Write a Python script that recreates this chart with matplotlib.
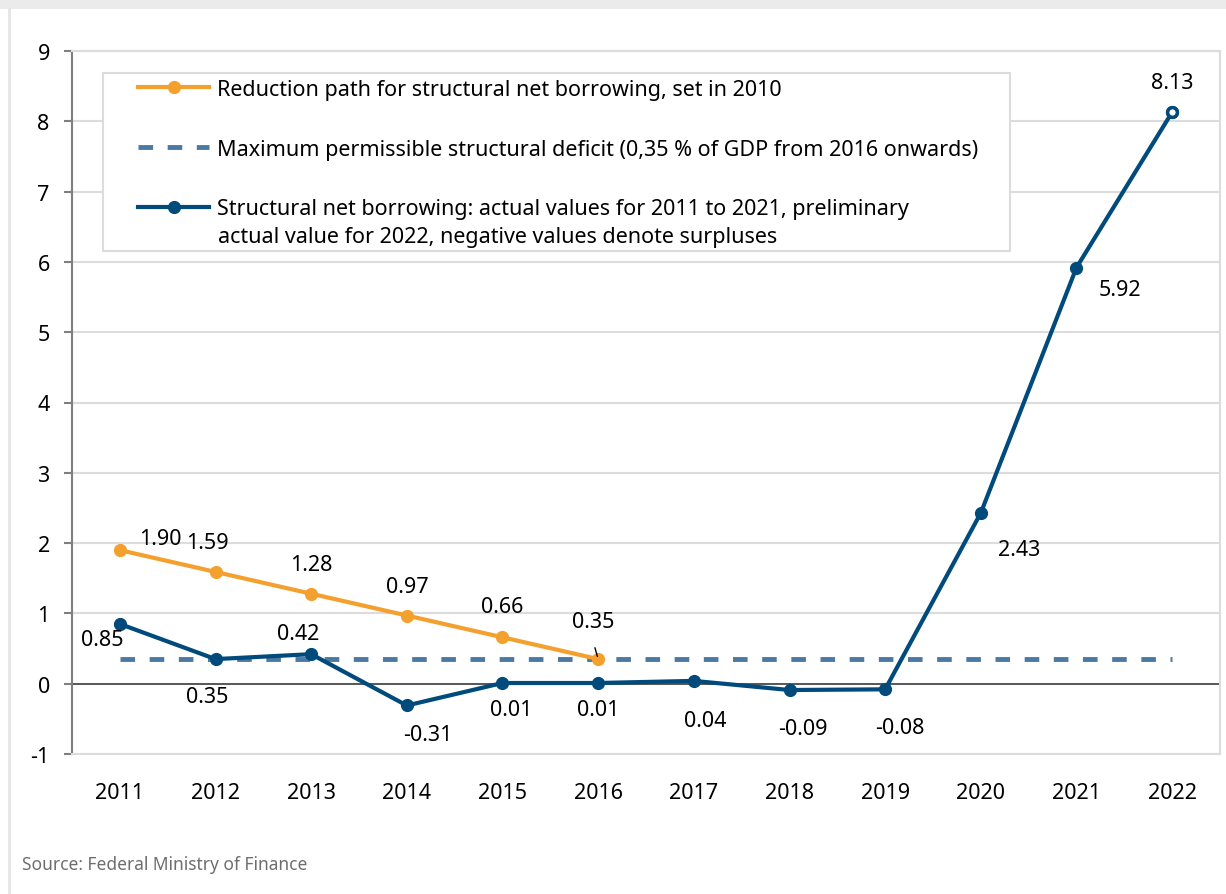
import matplotlib
matplotlib.use("Agg")
import matplotlib.pyplot as plt
from matplotlib.patches import Rectangle
from matplotlib.lines import Line2D

plt.rcParams['font.family'] = ['Noto Sans', 'DejaVu Sans']
plt.rcParams['axes.unicode_minus'] = False

years = ['2011', '2012', '2013', '2014', '2015', '2016', '2017', '2018', '2019', '2020', '2021', '2022']
reduction_path = [1.90, 1.59, 1.28, 0.97, 0.66, 0.35]
actual = [0.85, 0.35, 0.42, -0.31, 0.01, 0.01, 0.04, -0.09, -0.08, 2.43, 5.92, 8.13]
max_deficit = 0.35
reduction_labels = ['1.90', '1.59', '1.28', '0.97', '0.66', '0.35']
actual_labels = ['0.85', '0.35', '0.42', '-0.31', '0.01', '0.01', '0.04', '-0.09', '-0.08', '2.43', '5.92', '8.13']

ORANGE = '#f4a02e'
BLUE = '#004b7c'
DASH = '#4a7aa3'
GRID = '#dcdcdc'
FS = 15.5

fig = plt.figure(figsize=(12.26, 8.95), dpi=100)
ax = fig.add_axes([72 / 1226, 1 - 755 / 895, 1148 / 1226, 703 / 895])

# frame bits of the screenshot
fig.patches.append(Rectangle((0, 1 - 10 / 895), 1, 10 / 895, transform=fig.transFigure,
                             facecolor='#ebebeb', edgecolor='none', zorder=0))
fig.add_artist(Line2D([9 / 1226, 9 / 1226], [0, 1 - 10 / 895], transform=fig.transFigure,
                      color='#e6e6e6', lw=2))

x = list(range(len(years)))

for v in range(-1, 10):
    ax.axhline(v, color=GRID, lw=1.5, zorder=0)
ax.axhline(0, color='#404040', lw=1.2, zorder=1)

ax.plot([0, len(years) - 1], [max_deficit, max_deficit], color=DASH, lw=3.5,
        dashes=(3.0, 3.0), zorder=2,
        label='Maximum permissible structural deficit (0,35 % of GDP from 2016 onwards)')
ax.plot(x[:len(reduction_path)], reduction_path, color=ORANGE, lw=3, marker='o', ms=8.5,
        zorder=3, label='Reduction path for structural net borrowing, set in 2010')
ax.plot(x, actual, color=BLUE, lw=3, marker='o', ms=8.5, zorder=4,
        label='Structural net borrowing: actual values for 2011 to 2021, preliminary')
# hollow marker for preliminary value
ax.plot(x[-1], actual[-1], marker='o', ms=7, mfc='white', mec=BLUE, mew=2.5, zorder=5)

# label offsets in pixels (dx, dy)
red_off = [(40, 12), (-8, 29), (0, 29), (0, 29), (0, 31), (-5, 38)]
act_off = [(-18, -16), (-8, -37), (-13, 21), (21, -29), (9, -27), (0, -27), (11, -40),
           (13, -38), (15, -38), (38, -37), (44, -22), (0, 30)]

for i, (v, lab) in enumerate(zip(reduction_path, reduction_labels)):
    dx, dy = red_off[i]
    ax.annotate(lab, (i, v), xytext=(dx, dy), textcoords='offset pixels',
                ha='center', va='center', fontsize=FS, color='black', zorder=6)
ax.annotate('', (5, reduction_path[5]), xytext=(-4, 14), textcoords='offset pixels',
            arrowprops=dict(arrowstyle='-', color='black', lw=1))
for i, (v, lab) in enumerate(zip(actual, actual_labels)):
    dx, dy = act_off[i]
    ax.annotate(lab, (i, v), xytext=(dx, dy), textcoords='offset pixels',
                ha='center', va='center', fontsize=FS, color='black', zorder=6)

ax.set_xlim(-0.5, len(years) - 0.5)
ax.set_ylim(-1, 9)
ax.set_yticks(range(-1, 10))
ax.set_xticks(x)
ax.set_xticklabels(years)
ax.tick_params(axis='x', length=0, pad=20, labelsize=FS)
ax.tick_params(axis='y', length=6, width=1.5, color='#7f7f7f', pad=10, labelsize=FS)

for s in ['top', 'right', 'bottom']:
    ax.spines[s].set_color(GRID)
    ax.spines[s].set_linewidth(1.5)
ax.spines['left'].set_color('#7f7f7f')
ax.spines['left'].set_linewidth(1.5)

# legend box drawn separately, legend content placed inside it
ax.add_patch(Rectangle((103 / 1226, 1 - 252 / 895), 907 / 1226, 178 / 895,
                       transform=fig.transFigure, facecolor='white', edgecolor=GRID,
                       lw=1.5, zorder=1.5))
handles, labels = ax.get_legend_handles_labels()
order = [1, 0, 2]
leg = ax.legend([handles[i] for i in order], [labels[i] for i in order],
                loc='upper left', bbox_to_anchor=((138 - 72) / 1148, (755 - 80) / 703),
                fontsize=FS, handlelength=3.3, handletextpad=0.35, labelspacing=1.8,
                borderpad=0, borderaxespad=0, frameon=False)
# second line of the last legend entry
fig.text(218 / 1226, 1 - 237 / 895, 'actual value for 2022, negative values denote surpluses',
         fontsize=FS, va='center', ha='left', color='black')

fig.text(22 / 1226, 1 - 865 / 895, 'Source: Federal Ministry of Finance', fontsize=12.5,
         color='#6e6e6e', va='center', ha='left')

fig.savefig('out.png', dpi=100)
